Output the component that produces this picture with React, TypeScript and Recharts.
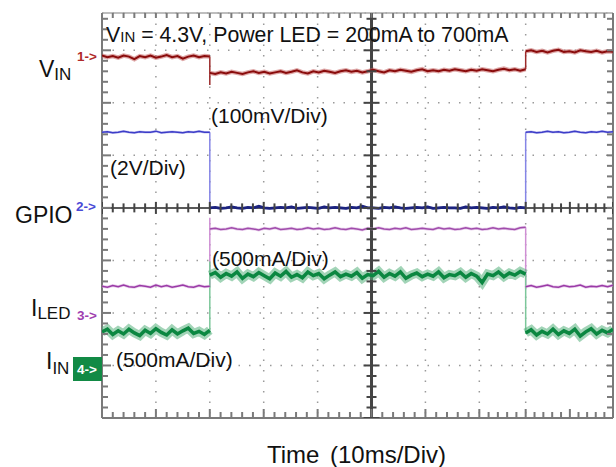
import { ComposedChart, Line, Scatter, XAxis, YAxis, CartesianGrid, ReferenceLine } from "recharts";

const X_MAX = 9.48;
const Y_MAX = 7.71;
const xGrid = [0, 1, 2, 3, 4, 5, 6, 7, 7.86, 8.68, 9.48];
const yGrid = [0, 1, 2, 3, 4, 5, 6, 7];
const CENTER_X = 5;
const CENTER_Y = 4;

// time of GPIO falling / rising edge
const segBounds = [0, 2, 7.86, 9.48];

// ch1 VIN (100mV/div)
const vinSeg1 = [6.9, 6.87, 6.89, 6.86, 6.9, 6.88, 6.83, 6.89, 6.87, 6.9, 6.86, 6.88, 6.91, 6.87, 6.89, 6.84, 6.88, 6.9, 6.87, 6.89, 6.88];
const vinSeg2 = [6.57, 6.55, 6.58, 6.56, 6.59, 6.57, 6.55, 6.58, 6.6, 6.57, 6.59, 6.56, 6.58, 6.6, 6.57, 6.59, 6.62, 6.58, 6.56, 6.6, 6.58, 6.61, 6.59, 6.57, 6.6, 6.62, 6.59, 6.61, 6.58, 6.6, 6.63, 6.6, 6.58, 6.62, 6.6, 6.63, 6.61, 6.59, 6.62, 6.64, 6.6, 6.62, 6.6, 6.63, 6.61, 6.64, 6.62, 6.6, 6.63, 6.61, 6.64, 6.62, 6.6, 6.63, 6.65, 6.62, 6.64, 6.61, 6.64];
const vinSeg3 = [6.98, 7.0, 6.97, 6.99, 6.96, 6.99, 7.01, 6.97, 6.98, 6.96, 7.0, 6.98, 6.97, 6.99, 6.96, 6.98, 6.97];
const vinEdges = [[6.88, 6.34], [6.64, 6.98]];

// ch2 GPIO (2V/div)
const gpioSeg1 = [5.44, 5.45, 5.43, 5.44, 5.46, 5.44, 5.43, 5.45, 5.44, 5.44, 5.46, 5.43, 5.44, 5.45, 5.44, 5.43, 5.45, 5.44, 5.46, 5.44, 5.44];
const gpioSeg2 = [4.0, 4.01, 3.99, 4.0, 4.02, 4.0, 3.99, 4.01, 4.0, 4.03, 4.0, 3.99, 4.0, 4.01, 4.0, 4.02, 3.99, 4.0, 4.01, 4.0, 3.99, 4.02, 4.0, 4.01, 4.0, 3.99, 4.01, 4.0, 4.03, 4.0, 4.0, 3.99, 4.01, 4.0, 4.02, 4.0, 3.99, 4.0, 4.01, 4.0, 4.02, 3.99, 4.0, 4.01, 4.0, 4.0, 3.99, 4.02, 4.0, 4.01, 4.0, 3.99, 4.01, 4.0, 4.02, 4.0, 3.99, 4.01, 4.0];
const gpioSeg3 = [5.44, 5.45, 5.43, 5.44, 5.46, 5.44, 5.45, 5.43, 5.44, 5.46, 5.44, 5.43, 5.45, 5.44, 5.46, 5.44, 5.45];
const gpioEdges = [[5.44, 4.0], [4.0, 5.44]];

// ch3 ILED (500mA/div)
const iledSeg1 = [2.51, 2.49, 2.52, 2.5, 2.53, 2.5, 2.49, 2.52, 2.51, 2.49, 2.53, 2.5, 2.52, 2.49, 2.51, 2.53, 2.5, 2.49, 2.52, 2.5, 2.51];
const iledSeg2 = [3.6, 3.61, 3.59, 3.6, 3.62, 3.6, 3.59, 3.61, 3.6, 3.58, 3.61, 3.6, 3.62, 3.59, 3.6, 3.61, 3.59, 3.6, 3.62, 3.6, 3.61, 3.59, 3.6, 3.62, 3.6, 3.59, 3.61, 3.6, 3.58, 3.61, 3.6, 3.62, 3.6, 3.59, 3.61, 3.6, 3.62, 3.59, 3.6, 3.61, 3.6, 3.59, 3.62, 3.6, 3.61, 3.59, 3.6, 3.62, 3.6, 3.61, 3.59, 3.6, 3.62, 3.6, 3.61, 3.6, 3.59, 3.62, 3.63];
const iledSeg3 = [2.5, 2.52, 2.49, 2.51, 2.53, 2.5, 2.49, 2.52, 2.5, 2.51, 2.53, 2.49, 2.51, 2.5, 2.52, 2.5, 2.53];
const iledEdges = [[2.51, 3.81], [3.63, 2.45]];

// ch4 IIN (500mA/div)
const iinSeg1 = [1.64, 1.69, 1.59, 1.66, 1.6, 1.69, 1.62, 1.57, 1.67, 1.61, 1.7, 1.63, 1.58, 1.68, 1.6, 1.66, 1.71, 1.61, 1.65, 1.59, 1.67];
const iinSeg2 = [2.72, 2.77, 2.68, 2.75, 2.7, 2.78, 2.66, 2.74, 2.69, 2.77, 2.71, 2.65, 2.76, 2.7, 2.79, 2.68, 2.73, 2.67, 2.78, 2.71, 2.75, 2.65, 2.72, 2.78, 2.69, 2.74, 2.7, 2.77, 2.66, 2.73, 2.71, 2.79, 2.68, 2.75, 2.7, 2.78, 2.66, 2.72, 2.76, 2.69, 2.74, 2.7, 2.78, 2.67, 2.73, 2.71, 2.77, 2.68, 2.75, 2.7, 2.58, 2.74, 2.71, 2.78, 2.69, 2.76, 2.72, 2.79, 2.74];
const iinSeg3 = [1.62, 1.68, 1.58, 1.65, 1.6, 1.69, 1.59, 1.66, 1.61, 1.69, 1.56, 1.64, 1.7, 1.6, 1.67, 1.62, 1.69];
const iinEdges = [[1.6, 2.98], [2.74, 1.6]];

type Pt = { t: number; y: number };

function seg(values: number[], t0: number, t1: number): Pt[] {
  return values.map((y, i) => ({ t: t0 + ((t1 - t0) * i) / (values.length - 1), y }));
}
function edge(t: number, ys: number[]): Pt[] {
  return ys.map((y) => ({ t, y }));
}

const traces = [
  { name: "vin", segs: [vinSeg1, vinSeg2, vinSeg3], edges: vinEdges, colors: ["#8a0c0c", "#8a0c0c", "#8a0c0c"], widths: [2, 2, 2], halo: "#c26060", haloW: 4.5, edgeColor: "#9b2a2a" },
  { name: "gpio", segs: [gpioSeg1, gpioSeg2, gpioSeg3], edges: gpioEdges, colors: ["#3d3dc8", "#1c237f", "#3d3dc8"], widths: [1.4, 2.8, 1.4], halo: "#9a9ae6", haloW: 2.5, edgeColor: "#8585e6" },
  { name: "iled", segs: [iledSeg1, iledSeg2, iledSeg3], edges: iledEdges, colors: ["#9a3aa6", "#a04cab", "#9a3aa6"], widths: [1.5, 1.5, 1.5], halo: "#d6a6dc", haloW: 3, edgeColor: "#cf8fd4" },
  { name: "iin", segs: [iinSeg1, iinSeg2, iinSeg3], edges: iinEdges, colors: ["#0b8741", "#0b8741", "#0b8741"], widths: [3.5, 3.5, 3.5], halo: "#55b17c", haloW: 9, edgeColor: "#7cc79a" },
];

// graticule tick marks
const xMinor: number[] = [];
for (let i = 0; i < xGrid.length - 1; i++) {
  for (let k = 1; k < 5; k++) xMinor.push(xGrid[i] + ((xGrid[i + 1] - xGrid[i]) * k) / 5);
}
const yMinor: number[] = [];
for (let v = 0.2; v < Y_MAX; v += 0.2) {
  if (Math.abs(v - Math.round(v)) > 0.05) yMinor.push(+v.toFixed(2));
}

const FRAME = "#7a7a7a";
const CROSS = "#444";

// pixel extents of each mark around its point: [x0, x1, y0, y1]
const tickGroups = [
  { k: "bMaj", d: xGrid.map((t) => ({ t, y: 0 })), e: [0, 0, 0, -9], c: FRAME },
  { k: "bMin", d: xMinor.map((t) => ({ t, y: 0 })), e: [0, 0, 0, -6], c: FRAME },
  { k: "top", d: xGrid.concat(xMinor).map((t) => ({ t, y: Y_MAX })), e: [0, 0, 0, 5], c: FRAME },
  { k: "chMaj", d: xGrid.map((t) => ({ t, y: CENTER_Y })), e: [0, 0, -6, 6], c: CROSS },
  { k: "chMin", d: xMinor.map((t) => ({ t, y: CENTER_Y })), e: [0, 0, -4.5, 4.5], c: CROSS },
  { k: "lMaj", d: yGrid.map((y) => ({ t: 0, y })), e: [0, 9, 0, 0], c: FRAME },
  { k: "lMin", d: yMinor.map((y) => ({ t: 0, y })), e: [0, 6, 0, 0], c: FRAME },
  { k: "right", d: yGrid.concat(yMinor).map((y) => ({ t: X_MAX, y })), e: [0, -6, 0, 0], c: FRAME },
  { k: "cvMaj", d: yGrid.map((y) => ({ t: CENTER_X, y })), e: [-8, 8, 0, 0], c: CROSS },
  { k: "cvMin", d: yMinor.map((y) => ({ t: CENTER_X, y })), e: [-5, 5, 0, 0], c: CROSS },
];

function tickShape(e: number[], c: string) {
  return (p: any) => (
    <line x1={p.cx + e[0]} x2={p.cx + e[1]} y1={p.cy + e[2]} y2={p.cy + e[3]} stroke={c} strokeWidth={2} />
  );
}

export default function App() {
  const font = "'Liberation Sans', Arial, sans-serif";

  return (
    <div style={{ position: "absolute", left: 0, top: 0, width: 616, height: 467, background: "#fff" }}>
      <ComposedChart width={616} height={467} margin={{ top: 13, right: 3, bottom: 49, left: 102 }}>
        <XAxis dataKey="t" type="number" domain={[0, X_MAX]} ticks={xGrid} hide allowDataOverflow />
        <YAxis type="number" domain={[0, Y_MAX]} ticks={yGrid} hide allowDataOverflow />
        <CartesianGrid stroke="#9a9a9a" strokeWidth={1.5} strokeDasharray="1.5 9" />

        <ReferenceLine x={0} stroke={FRAME} strokeWidth={2} />
        <ReferenceLine y={0} stroke={FRAME} strokeWidth={2} />
        <ReferenceLine y={Y_MAX} stroke="#a8a8a8" strokeWidth={1.5} />
        <ReferenceLine x={X_MAX} stroke={FRAME} strokeWidth={2} />
        <ReferenceLine x={CENTER_X} stroke={CROSS} strokeWidth={3} />
        <ReferenceLine y={CENTER_Y} stroke="#5a5a5a" strokeWidth={2} />

        {tickGroups.map((g) => (
          <Scatter key={g.k} data={g.d} dataKey="y" shape={tickShape(g.e, g.c)} isAnimationActive={false} />
        ))}

        {traces.map((tr) =>
          tr.edges.map((e, i) => (
            <Line
              key={tr.name + "e" + i}
              data={edge(segBounds[i + 1], e)}
              dataKey="y"
              type="linear"
              stroke={tr.edgeColor}
              strokeWidth={1.5}
              dot={false}
              isAnimationActive={false}
            />
          ))
        )}
        {traces.map((tr) =>
          tr.segs.map((s, i) => (
            <Line
              key={tr.name + "h" + i}
              data={seg(s, segBounds[i], segBounds[i + 1])}
              dataKey="y"
              type="linear"
              stroke={tr.halo}
              strokeOpacity={0.55}
              strokeWidth={tr.haloW}
              dot={false}
              isAnimationActive={false}
            />
          ))
        )}
        {traces.map((tr) =>
          tr.segs.map((s, i) => (
            <Line
              key={tr.name + "s" + i}
              data={seg(s, segBounds[i], segBounds[i + 1])}
              dataKey="y"
              type="linear"
              stroke={tr.colors[i]}
              strokeWidth={tr.widths[i]}
              dot={false}
              isAnimationActive={false}
            />
          ))
        )}
      </ComposedChart>

      <svg width={616} height={467} style={{ position: "absolute", left: 0, top: 0, pointerEvents: "none" }} fontFamily={font}>
        <text x={106} y={42} fontSize={21.3} fill="#111">
          V<tspan fontSize={15}>IN</tspan> = 4.3V, Power LED = 200mA to 700mA
        </text>
        <text x={39} y={77} fontSize={23} fill="#111">
          V<tspan fontSize={17} dy={3}>IN</tspan>
        </text>
        <text x={77} y={61} fontSize={13.5} fontWeight="bold" fill="#b02a2a">1-&gt;</text>

        <text x={211} y={123} fontSize={21} fill="#111">(100mV/Div)</text>
        <text x={110} y={175} fontSize={21} fill="#111">(2V/Div)</text>

        <text x={15} y={223} fontSize={23} fill="#111">GPIO</text>
        <text x={76} y={211} fontSize={13.5} fontWeight="bold" fill="#4a4ad6">2-&gt;</text>

        <text x={212} y={266} fontSize={21} fill="#111">(500mA/Div)</text>

        <text x={31} y={316} fontSize={23} fill="#111">
          I<tspan fontSize={17} dy={3}>LED</tspan>
        </text>
        <text x={77} y={320} fontSize={13.5} fontWeight="bold" fill="#a040b0">3-&gt;</text>

        <text x={46} y={369} fontSize={23} fill="#111">
          I<tspan fontSize={17} dy={5}>IN</tspan>
        </text>
        <rect x={73} y={357} width={29} height={24} fill="#128a45" />
        <text x={77} y={374} fontSize={13.5} fontWeight="bold" fill="#fff">4-&gt;</text>
        <text x={116} y={367} fontSize={21} fill="#111">(500mA/Div)</text>

        <text x={267} y={463} fontSize={24} fill="#111">Time</text>
        <text x={330} y={463} fontSize={24} fill="#111">(10ms/Div)</text>
      </svg>
    </div>
  );
}
